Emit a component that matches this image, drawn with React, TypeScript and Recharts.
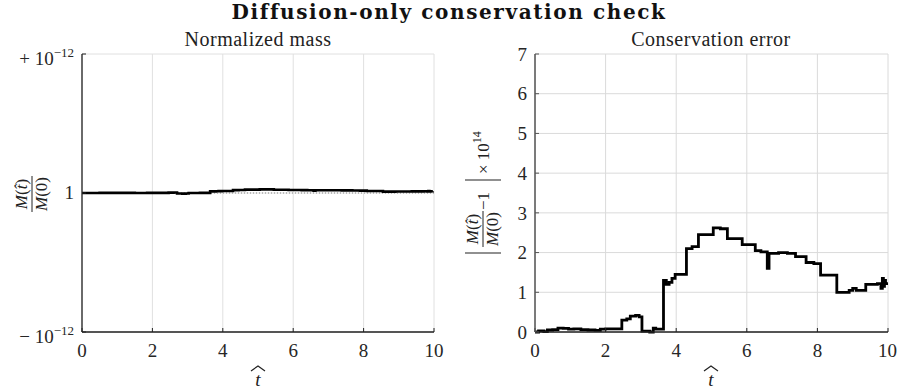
import { CartesianGrid, Line, LineChart, ReferenceLine, XAxis, YAxis } from 'recharts';

// t-hat breakpoints (step changes)
const tPoints = [
    0, 0.1, 0.25, 0.35, 0.5, 0.65, 0.8, 0.95, 1.1, 1.3, 1.5, 1.7, 1.85, 2.0,
    2.46, 2.6, 2.7, 2.85, 2.95, 3.03, 3.25, 3.35, 3.42, 3.64, 3.72, 3.8, 3.88,
    3.97, 4.29, 4.45, 4.63, 4.85, 5.05, 5.25, 5.45, 5.87, 6.24, 6.4, 6.58, 6.63,
    6.9, 7.15, 7.38, 7.68, 7.9, 8.09, 8.55, 8.9, 9.0, 9.1, 9.37, 9.7, 9.8, 9.84,
    9.87, 9.9, 9.93, 9.96,
];

// |M(t)/M(0) - 1| x 1e14
const errVals = [
    0.0, 0.03, 0.01, 0.05, 0.06, 0.1, 0.09, 0.07, 0.08, 0.06, 0.05, 0.04, 0.07, 0.08,
    0.3, 0.33, 0.4, 0.42, 0.38, 0.02, 0.0, 0.1, 0.07, 1.3, 1.2, 1.25, 1.35,
    1.45, 2.1, 2.15, 2.45, 2.45, 2.62, 2.6, 2.35, 2.2, 2.05, 2.02, 1.6, 1.98,
    2.0, 1.98, 1.9, 1.75, 1.72, 1.43, 1.0, 1.05, 1.1, 1.05, 1.2, 1.22, 1.1, 1.35,
    1.15, 1.3, 1.22, 1.25,
];

// signed deviation M(t)/M(0) - 1, in units of 1e-14 (dips below 1 near t = 2.7-3)
const massDev = [
    0.0, 0.03, 0.01, 0.05, 0.06, 0.1, 0.09, 0.07, 0.08, 0.06, 0.05, 0.04, 0.07, 0.08,
    0.3, 0.33, -0.4, -0.42, -0.38, 0.02, 0.0, 0.1, 0.07, 1.3, 1.2, 1.25, 1.35,
    1.45, 2.1, 2.15, 2.45, 2.45, 2.62, 2.6, 2.35, 2.2, 2.05, 2.02, 1.6, 1.98,
    2.0, 1.98, 1.9, 1.75, 1.72, 1.43, 1.0, 1.05, 1.1, 1.05, 1.2, 1.22, 1.1, 1.35,
    1.15, 1.3, 1.22, 1.25,
];

const xTicks = [0, 2, 4, 6, 8, 10];
const errTicks = [0, 1, 2, 3, 4, 5, 6, 7];
const massTicks = [-100, 0, 100];

const title = 'Diffusion-only conservation check';
const leftTitle = 'Normalized mass';
const rightTitle = 'Conservation error';

const data = tPoints.map((t, i) => ({ t, err: errVals[i], mass: massDev[i] }));

const SERIF = '"Liberation Serif", "Times New Roman", serif';
const tickStyle = { fill: '#262626', fontSize: 19, fontFamily: SERIF };

const MassTick = (props: any) => {
    const { x, y, payload } = props;
    const v = payload.value;
    if (v === 0) {
        return (
            <text x={x} y={y + 6} textAnchor="end" {...tickStyle}>
                1
            </text>
        );
    }
    return (
        <text x={x} y={y + 11} textAnchor="end" fill="#262626" fontFamily={SERIF} fontSize={19}>
            <tspan>{v > 0 ? '+ 10' : '− 10'}</tspan>
            <tspan dy={-8} fontSize={13}>
                −12
            </tspan>
        </text>
    );
};

const THat = ({ cx, y }: { cx: number; y: number }) => (
    <g>
        <path
            d={`M${cx - 7} ${y - 15} L${cx} ${y - 20} L${cx + 7} ${y - 15}`}
            stroke="#222"
            strokeWidth={1.2}
            fill="none"
        />
        <text x={cx} y={y} textAnchor="middle" fontStyle="italic" fontSize={19} fill="#222" fontFamily={SERIF}>
            t
        </text>
    </g>
);

const Fraction = () => (
    <g>
        <text x={0} y={-5} textAnchor="middle" fontSize={17} fill="#222" fontFamily={SERIF}>
            <tspan fontStyle="italic">M</tspan>(<tspan fontStyle="italic">t̂</tspan>)
        </text>
        <line x1={-18} x2={18} y1={0} y2={0} stroke="#222" strokeWidth={1} />
        <text x={0} y={15} textAnchor="middle" fontSize={17} fill="#222" fontFamily={SERIF}>
            <tspan fontStyle="italic">M</tspan>(0)
        </text>
    </g>
);

export default function App() {
    return (
        <div
            style={{
                position: 'absolute',
                left: 0,
                top: 0,
                width: 897,
                height: 389,
                background: '#fff',
                overflow: 'hidden',
            }}
        >
            <div style={{ position: 'absolute', left: 0, top: 0 }}>
                <LineChart width={450} height={389} data={data} margin={{ top: 54, right: 16, bottom: 0, left: 0 }}>
                    <CartesianGrid stroke="#e0e0e0" strokeWidth={1} />
                    <XAxis
                        dataKey="t"
                        type="number"
                        domain={[0, 10]}
                        ticks={xTicks}
                        height={57}
                        tickSize={-4}
                        tickMargin={16}
                        tick={tickStyle}
                        tickLine={{ stroke: '#222' }}
                        axisLine={{ stroke: '#222', strokeWidth: 1.3 }}
                    />
                    <YAxis
                        type="number"
                        domain={[-100, 100]}
                        ticks={massTicks}
                        width={82}
                        tickSize={-4}
                        tickMargin={12}
                        tick={<MassTick />}
                        tickLine={{ stroke: '#222' }}
                        axisLine={{ stroke: '#222', strokeWidth: 1.3 }}
                    />
                    <ReferenceLine y={0} stroke="#888" strokeDasharray="1 2" strokeWidth={1} />
                    <Line
                        type="stepAfter"
                        dataKey="mass"
                        stroke="#000"
                        strokeWidth={2.6}
                        dot={false}
                        isAnimationActive={false}
                    />
                </LineChart>
            </div>
            <div style={{ position: 'absolute', left: 447, top: 0 }}>
                <LineChart width={450} height={389} data={data} margin={{ top: 54, right: 9, bottom: 0, left: 0 }}>
                    <CartesianGrid stroke="#dadada" strokeWidth={1} />
                    <XAxis
                        dataKey="t"
                        type="number"
                        domain={[0, 10]}
                        ticks={xTicks}
                        height={57}
                        tickSize={-4}
                        tickMargin={16}
                        tick={tickStyle}
                        tickLine={{ stroke: '#222' }}
                        axisLine={{ stroke: '#222', strokeWidth: 1.3 }}
                    />
                    <YAxis
                        type="number"
                        domain={[0, 7]}
                        ticks={errTicks}
                        width={88}
                        tickSize={-4}
                        tickMargin={12}
                        tick={tickStyle}
                        tickLine={{ stroke: '#555' }}
                        axisLine={{ stroke: '#555', strokeWidth: 1.5 }}
                    />
                    <Line
                        type="stepAfter"
                        dataKey="err"
                        stroke="#000"
                        strokeWidth={2.8}
                        dot={false}
                        isAnimationActive={false}
                    />
                </LineChart>
            </div>
            <svg
                width={897}
                height={389}
                style={{ position: 'absolute', left: 0, top: 0, pointerEvents: 'none' }}
            >
                <text
                    x={449}
                    y={19}
                    textAnchor="middle"
                    fontFamily='"DejaVu Serif", serif'
                    fontWeight="bold"
                    fontSize={20}
                    letterSpacing={1.6}
                    fill="#111"
                >
                    {title}
                </text>
                <text x={258} y={46} textAnchor="middle" fontFamily={SERIF} fontSize={20} letterSpacing={0.5} fill="#222">
                    {leftTitle}
                </text>
                <text x={711} y={46} textAnchor="middle" fontFamily={SERIF} fontSize={20} letterSpacing={0.5} fill="#222">
                    {rightTitle}
                </text>
                <THat cx={258} y={386} />
                <THat cx={711} y={386} />
                <g transform="translate(32,194) rotate(-90)">
                    <Fraction />
                </g>
                <g transform="translate(483,191) rotate(-90)">
                    <g transform="translate(-38,0)">
                        <Fraction />
                    </g>
                    <line x1={-62} x2={-62} y1={-18} y2={18} stroke="#222" strokeWidth={1.2} />
                    <text x={-19} y={6} fontFamily={SERIF} fontSize={17} fill="#222">
                        −1
                    </text>
                    <line x1={11} x2={11} y1={-18} y2={18} stroke="#222" strokeWidth={1.2} />
                    <text x={17} y={6} fontFamily={SERIF} fontSize={17} fill="#222">
                        <tspan>× 10</tspan>
                        <tspan dy={-8} fontSize={12}>
                            14
                        </tspan>
                    </text>
                </g>
            </svg>
        </div>
    );
}
